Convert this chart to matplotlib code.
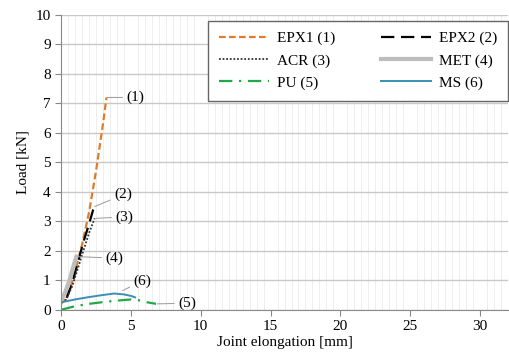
import numpy as np
import matplotlib.pyplot as plt
from matplotlib.ticker import MultipleLocator

plt.rcParams['font.family'] = ['Liberation Serif', 'DejaVu Serif']

# load-elongation curves (mm, kN)
epx1_x = [0.0, 0.3, 0.7, 1.0, 1.5, 2.0, 2.5, 3.0, 3.25]
epx1_y = [0.2, 0.35, 0.8, 1.3, 2.2, 3.3, 4.7, 6.3, 7.2]
epx2_x = [0.4, 0.8, 1.2, 1.6, 2.0, 2.3]
epx2_y = [0.4, 0.9, 1.6, 2.3, 2.9, 3.4]
acr_x = [0.3, 0.8, 1.2, 1.6, 2.0, 2.4]
acr_y = [0.3, 0.8, 1.4, 2.0, 2.6, 3.1]
met_x = [0.0, 0.3, 0.6, 0.9, 1.1]
met_y = [0.3, 0.6, 1.0, 1.5, 1.8]
pu_x = [0.0, 1.0, 2.0, 3.0, 4.0, 5.0, 5.5, 6.2, 6.8]
pu_y = [0.0, 0.12, 0.2, 0.26, 0.31, 0.35, 0.33, 0.25, 0.2]
ms_x = [0.0, 1.0, 2.0, 3.0, 3.8, 4.5, 5.0, 5.3]
ms_y = [0.25, 0.35, 0.43, 0.5, 0.55, 0.52, 0.47, 0.42]

fig, ax = plt.subplots(figsize=(5.09, 3.54), dpi=100)
fig.subplots_adjust(left=0.12, right=0.998, top=0.958, bottom=0.125)

h1, = ax.plot(epx1_x, epx1_y, color='#E07B28', ls=(0, (3, 1.5)), lw=1.6, label='EPX1 (1)')
h2, = ax.plot(epx2_x, epx2_y, color='black', ls=(0, (6, 3)), lw=1.6, label='EPX2 (2)')
h3, = ax.plot(acr_x, acr_y, color='#333333', ls=(0, (1, 1)), lw=1.3, label='ACR (3)')
h4, = ax.plot(met_x, met_y, color='#BDBDBD', lw=3, label='MET (4)')
h5, = ax.plot(pu_x, pu_y, color='#22A848', ls=(0, (6, 3, 1, 3)), lw=1.6, label='PU (5)')
h6, = ax.plot(ms_x, ms_y, color='#3A8FB7', lw=1.4, label='MS (6)')

# callouts
notes = [('(1)', (3.3, 7.2), (4.7, 7.2)),
         ('(2)', (2.4, 3.5), (3.8, 3.9)),
         ('(3)', (2.5, 3.1), (3.9, 3.15)),
         ('(4)', (1.2, 1.8), (3.2, 1.75)),
         ('(6)', (4.4, 0.65), (5.2, 0.98)),
         ('(5)', (6.9, 0.2), (8.4, 0.22))]
for txt, xy, xyt in notes:
    ax.annotate(txt, xy=xy, xytext=xyt, fontsize=11, va='center',
                arrowprops=dict(arrowstyle='-', color='#999999', lw=0.7,
                                shrinkA=1, shrinkB=0))

ax.set_xlim(0, 32)
ax.set_ylim(0, 10)
ax.xaxis.set_major_locator(MultipleLocator(5))
ax.xaxis.set_minor_locator(MultipleLocator(0.5))
ax.yaxis.set_major_locator(MultipleLocator(1))
ax.grid(axis='y', which='major', color='#C8C8C8', lw=1.0)
ax.grid(axis='x', which='minor', color='#EBEBEB', lw=0.6)
ax.set_axisbelow(True)
for s in ['top', 'right']:
    ax.spines[s].set_visible(False)
for s in ['left', 'bottom']:
    ax.spines[s].set_color('#888888')
ax.tick_params(which='major', length=4, color='#888888', labelsize=11)
ax.tick_params(which='minor', length=0)

ax.set_xlabel('Joint elongation [mm]', fontsize=11, labelpad=2)
ax.set_ylabel('Load [kN]', fontsize=11)

# row-major order like the original legend
leg = ax.legend([h1, h3, h5, h2, h4, h6],
                ['EPX1 (1)', 'ACR (3)', 'PU (5)', 'EPX2 (2)', 'MET (4)', 'MS (6)'],
                ncol=2, loc='upper right', bbox_to_anchor=(1.0, 0.98), borderaxespad=0,
                fontsize=11, fancybox=False, edgecolor='#666666', framealpha=1,
                handlelength=3.3, handletextpad=0.5, columnspacing=3.0,
                borderpad=0.7, labelspacing=0.55)
leg.get_frame().set_linewidth(1.0)

plt.savefig('out.png')
